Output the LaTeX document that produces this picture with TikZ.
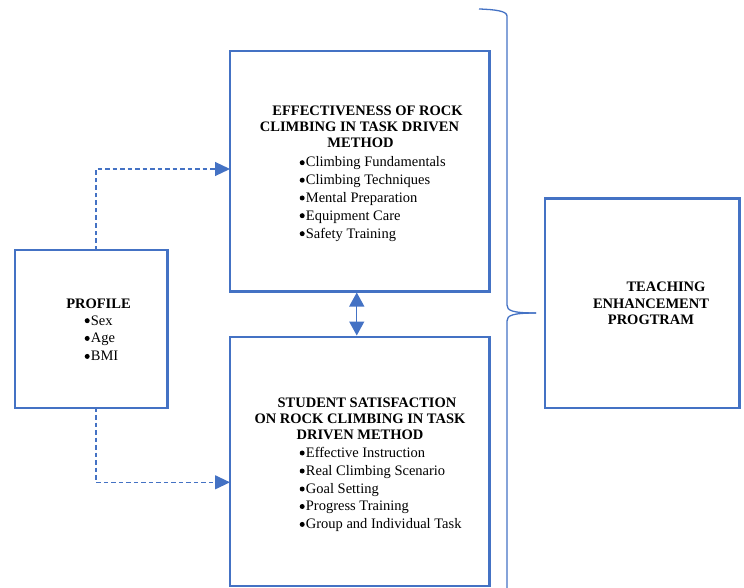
\documentclass[tikz,border=0pt]{standalone}
\usepackage{fontspec}
\setmainfont{Liberation Serif}
\usetikzlibrary{arrows.meta,calc}
\definecolor{wblue}{HTML}{4472C4}
\newcommand{\bul}{\tikz[baseline={(0pt,-4.3pt)}]\fill[black] (0pt,0pt) circle (2.5pt);\hspace{1.2pt}}
\begin{document}
\begin{tikzpicture}[x=1pt,y=-1pt,
  box/.style={draw=wblue,line width=2.4pt,inner sep=0pt,outer sep=0pt,fill=white},
  ttl/.style={inner sep=0pt,anchor=base,font=\fontsize{14.5}{17}\selectfont\bfseries},
  itm/.style={inner sep=0pt,anchor=base west,font=\fontsize{14.5}{17}\selectfont},
  dasharrow/.style={draw=wblue,line width=1.2pt,dash pattern=on 4.5pt off 3pt,-{Triangle[length=15pt,width=14pt]}},
  dblarrow/.style={draw=wblue,line width=1.3pt,{Triangle[length=14pt,width=15pt]}-{Triangle[length=14pt,width=15pt]}},
  bracestyle/.style={draw=wblue,line width=1.3pt}]
\useasboundingbox (0,0) rectangle (744,588);
% boxes
\node[box,minimum width=259.5pt,minimum height=240.5pt] (top) at (359.75,171.25) {};
\node[box,minimum width=259.5pt,minimum height=249pt] (bot) at (359.75,461.5) {};
\node[box,minimum width=152.5pt,minimum height=157.7pt] (prof) at (91.35,328.85) {};
\node[box,minimum width=194.5pt,minimum height=209.5pt] (teach) at (642.25,303.25) {};
% top box text
\node[ttl] (t1) at (367.5,116) {EFFECTIVENESS OF ROCK};
\node[ttl] (t2) at (359.5,132) {CLIMBING IN TASK DRIVEN};
\node[ttl] (t3) at (360.5,148) {METHOD};
\node[itm] (ta) at (299.5,167) {\bul Climbing Fundamentals};
\node[itm] (tb) at (299.5,184.5) {\bul Climbing Techniques};
\node[itm] (tc) at (299.5,202.3) {\bul Mental Preparation};
\node[itm] (td) at (299.5,220) {\bul Equipment Care};
\node[itm] (te) at (299.5,238) {\bul Safety Training};
% bottom box text
\node[ttl] (b1) at (367,407) {STUDENT SATISFACTION};
\node[ttl] (b2) at (360,423.3) {ON ROCK CLIMBING IN TASK};
\node[ttl] (b3) at (360,439.3) {DRIVEN METHOD};
\node[itm] (ba) at (299.5,457.3) {\bul Effective Instruction};
\node[itm] (bb) at (299.5,475.3) {\bul Real Climbing Scenario};
\node[itm] (bc) at (299.5,493.3) {\bul Goal Setting};
\node[itm] (bd) at (299.5,510.8) {\bul Progress Training};
\node[itm] (be) at (299.5,528.7) {\bul Group and Individual Task};
% profile text
\node[ttl] (p1) at (98.5,308.3) {PROFILE};
\node[itm] (pa) at (84.5,325) {\bul Sex};
\node[itm] (pb) at (84.5,342.7) {\bul Age};
\node[itm] (pc) at (84.5,360.7) {\bul BMI};
% teaching text
\node[ttl] (e1) at (666,291.7) {TEACHING};
\node[ttl] (e2) at (651,308.3) {ENHANCEMENT};
\node[ttl] (e3) at (651,324.3) {PROGTRAM};
% connectors
\draw[dasharrow] ([xshift=4.65pt]prof.north) |- ([yshift=2.25pt]top.west);
\draw[dasharrow] ([xshift=4.65pt]prof.south) |- ([yshift=-20.8pt]bot.west);
\draw[dblarrow] ([xshift=-3pt,yshift=-1pt]top.south) -- ([xshift=-3pt,yshift=1.5pt]bot.north);
% brace
\coordinate (brtop) at (479,9);
\coordinate (brtip) at (536,313);
\coordinate (brbot) at (507,590);
\draw[bracestyle] (brtop) .. controls (495,9.5) and (507,11) .. (507,16) -- (507,305)
  .. controls (507,310.5) and (512,313) .. (brtip);
\draw[bracestyle] (brtip) .. controls (512,313) and (507,315.5) .. (507,321) -- (brbot);
\end{tikzpicture}
\end{document}
